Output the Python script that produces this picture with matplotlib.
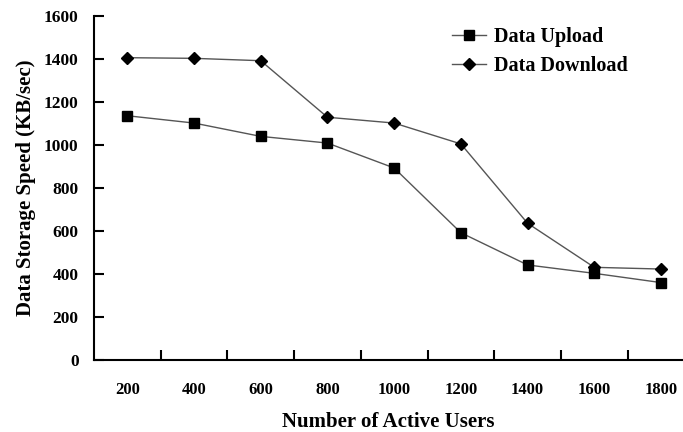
import matplotlib
matplotlib.use("Agg")
import matplotlib.pyplot as plt
import numpy as np

users = ['200', '400', '600', '800', '1000', '1200', '1400', '1600', '1800']
upload = [1136, 1102, 1040, 1009, 893, 592, 442, 403, 360]
download = [1406, 1403, 1392, 1129, 1102, 1005, 636, 431, 423]

plt.rcParams['font.family'] = ['Liberation Serif', 'DejaVu Serif']
plt.rcParams['font.weight'] = 'bold'

fig = plt.figure(figsize=(6.83, 4.32), dpi=100)
ax = fig.add_axes([0.1376, 0.1667, 0.8624, 0.7963])

x = np.arange(len(users))
ax.plot(x, upload, color='#555555', linewidth=1.0, marker='s', markersize=7.5,
        markerfacecolor='black', markeredgecolor='black', label='Data Upload', clip_on=False)
ax.plot(x, download, color='#555555', linewidth=1.0, marker='D', markersize=6,
        markerfacecolor='black', markeredgecolor='black', label='Data Download', clip_on=False)

ax.set_xlim(-0.5, 8.33)
ax.set_ylim(0, 1600)
ax.set_yticks(range(0, 1601, 200))
ax.set_xticks(x)
ax.set_xticklabels(users)
ax.set_xticks(x[:-1] + 0.5, minor=True)
ax.tick_params(axis='x', which='major', length=0, pad=16, labelsize=12)
ax.tick_params(axis='x', which='minor', direction='in', length=7, width=1.5)
ax.tick_params(axis='y', direction='in', length=7, width=1.5, labelsize=12.5, pad=11)

for s in ['top', 'right']:
    ax.spines[s].set_visible(False)
for s in ['left', 'bottom']:
    ax.spines[s].set_linewidth(1.5)

ax.set_xlabel('Number of Active Users', fontsize=15, fontweight='bold', labelpad=10)
ax.set_ylabel('Data Storage Speed (KB/sec)', fontsize=15, fontweight='bold', labelpad=6)

ax.legend(loc='upper left', bbox_to_anchor=(0.577, 1.02), frameon=False, fontsize=14.5,
          handlelength=1.7, handletextpad=0.4, labelspacing=0.45)

fig.savefig('out.png', dpi=100)
